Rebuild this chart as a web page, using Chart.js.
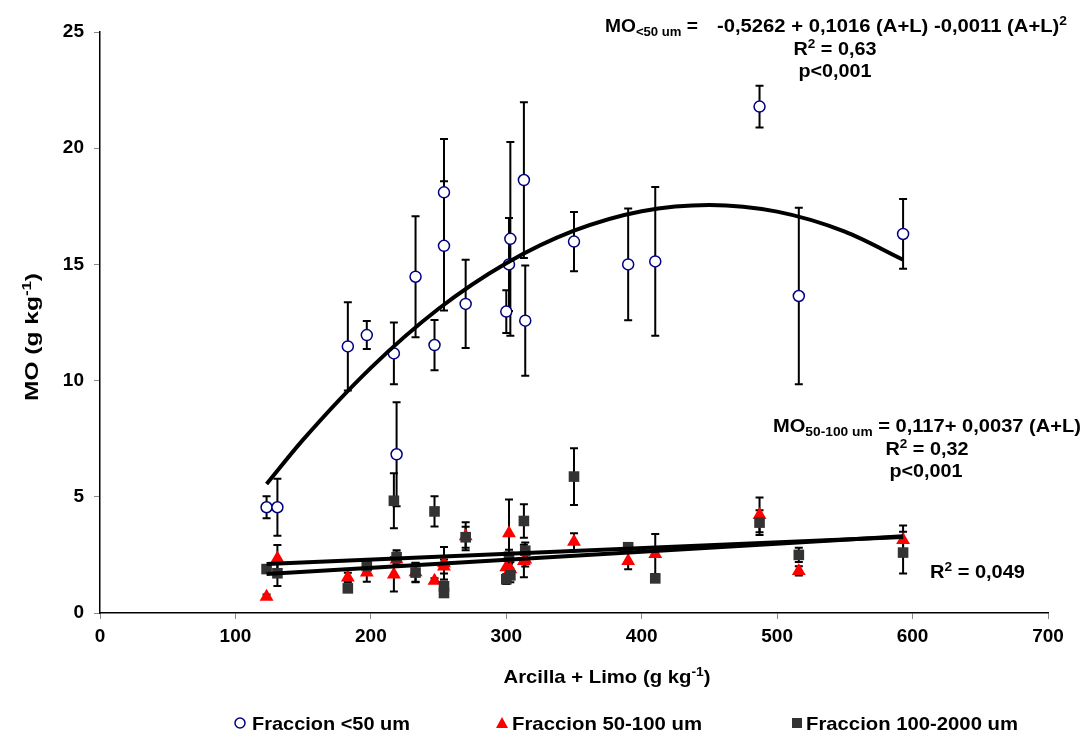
<!DOCTYPE html>
<html>
<head>
<meta charset="utf-8">
<script src="https://cdn.jsdelivr.net/npm/chart.js@4"></script>
<style>
html,body{margin:0;padding:0;background:#fff;}
#wrap{width:1084px;height:735px;position:relative;}
</style>
</head>
<body>
<div id="wrap"><canvas id="c" width="1084" height="735"></canvas></div>
<script>
// ---- data ----
const xVals = [123,131,183,197,217,219,233,247,254,254,270,300,302,303,313,314,350,390,410,487,516,593];
const moFine = [4.55,4.55,11.47,11.96,11.17,6.83,14.47,11.53,18.10,15.80,13.30,12.97,15.00,16.10,18.63,12.58,15.98,15.00,15.13,21.79,13.64,16.31];
const moFineErr = [0.47,1.23,1.90,0.60,1.33,2.24,2.60,1.08,2.30,2.78,1.90,0.92,2.00,4.17,3.35,2.37,1.27,2.40,3.20,0.90,3.80,1.50];
const moMid = [0.70,2.35,1.53,1.74,1.66,2.30,1.75,1.39,2.14,2.00,3.30,1.97,3.43,1.88,2.24,2.30,3.07,2.24,2.54,4.22,1.81,3.14];
const moMidErr = [0.10,0.58,0.20,0.40,0.74,0.30,0.40,0.10,0.70,0.30,0.60,0.30,1.45,0.30,0.70,0.30,0.36,0.36,0.86,0.75,0.20,0.62];
const moCoarse = [1.89,1.71,1.06,2.02,4.83,2.40,1.74,4.37,1.15,0.86,3.26,1.45,2.42,1.62,3.96,2.68,5.87,2.83,1.49,3.89,2.50,2.60];
const moCoarseErr = [0.10,0.55,0.15,0.30,1.18,0.30,0.42,0.65,0.20,0.10,0.45,0.20,0.30,0.30,0.72,0.35,1.22,0.10,0.10,0.53,0.31,0.90];

// trend curve / lines
const curveX = [123,150,200,250,300,350,400,450,500,550,593];
const curveY = [5.55,7.46,10.55,13.09,15.05,16.45,17.29,17.56,17.27,16.41,15.20];
const lineMidX = [123,593];
const lineMidY = [1.68,3.30];
const lineCoarseX = [123,593];
const lineCoarseY = [2.11,3.27];

const seriesLabels = ['Fraccion <50 um','Fraccion 50-100 um','Fraccion 100-2000 um'];
const xTicks = [0,100,200,300,400,500,600,700];
const yTicks = [0,5,10,15,20,25];

const FONT = "'Liberation Sans', Arial, sans-serif";
const BASE = 19, SMALL = 13;
const pts = (xs, ys) => xs.map((x,i)=>({x:x, y:ys[i]}));

// draws mixed-size text; optional target width stretches horizontally
function drawRich(ctx, parts, x, y, align, target){
  let w = 0;
  parts.forEach(p=>{ ctx.font = 'bold '+(p.s||BASE)+'px '+FONT; p.w = ctx.measureText(p.t).width; w += p.w; });
  const k = target ? target / w : 1;
  const tw = w * k;
  let sx = align==='center' ? x - tw/2 : (align==='right' ? x - tw : x);
  ctx.save();
  ctx.translate(sx, y); ctx.scale(k, 1);
  ctx.textAlign = 'left'; ctx.textBaseline = 'alphabetic'; ctx.fillStyle = '#000';
  let cx = 0;
  parts.forEach(p=>{ ctx.font = 'bold '+(p.s||BASE)+'px '+FONT; ctx.fillText(p.t, cx, (p.dy||0)); cx += p.w; });
  ctx.restore();
}

const errorBars = {
  id:'errorBars',
  beforeDatasetsDraw(chart){
    const ctx = chart.ctx, xs = chart.scales.x, ys = chart.scales.y;
    ctx.save();
    ctx.strokeStyle = '#000'; ctx.lineWidth = 2;
    chart.data.datasets.forEach(ds=>{
      if(!ds.errors) return;
      ds.data.forEach((d,j)=>{
        const e = ds.errors[j]; if(!e) return;
        const px = xs.getPixelForValue(d.x);
        const t = ys.getPixelForValue(d.y + e), b = ys.getPixelForValue(Math.max(0,d.y - e));
        ctx.beginPath();
        ctx.moveTo(px, t); ctx.lineTo(px, b);
        ctx.moveTo(px-4, t); ctx.lineTo(px+4, t);
        ctx.moveTo(px-4, b); ctx.lineTo(px+4, b);
        ctx.stroke();
      });
    });
    ctx.restore();
  }
};

const texts = {
  id:'texts',
  afterDraw(chart){
    const ctx = chart.ctx;
    ctx.save();
    // annotation 1
    drawRich(ctx, [{t:'MO'},{t:'<50 um',s:SMALL,dy:4},{t:' ='}], 605, 32, 'left', 93);
    drawRich(ctx, [{t:'-0,5262 + 0,1016 (A+L) -0,0011 (A+L)'},{t:'2',s:SMALL,dy:-7}], 717, 32, 'left', 350);
    drawRich(ctx, [{t:'R'},{t:'2',s:SMALL,dy:-7},{t:' = 0,63'}], 835, 55, 'center', 83);
    drawRich(ctx, [{t:'p<0,001'}], 835, 77, 'center', 73);
    // annotation 2
    drawRich(ctx, [{t:'MO'},{t:'50-100 um',s:SMALL,dy:4},{t:' = 0,117+ 0,0037 (A+L)'}], 773, 432, 'left', 308);
    drawRich(ctx, [{t:'R'},{t:'2',s:SMALL,dy:-7},{t:' = 0,32'}], 927, 455, 'center', 83);
    drawRich(ctx, [{t:'p<0,001'}], 926, 477, 'center', 73);
    drawRich(ctx, [{t:'R'},{t:'2',s:SMALL,dy:-7},{t:' = 0,049'}], 930, 578, 'left', 95);
    // axis titles
    drawRich(ctx, [{t:'Arcilla + Limo (g kg'},{t:'-1',s:SMALL,dy:-7},{t:')'}], 607, 683, 'center', 207);
    ctx.save();
    ctx.translate(38, 337); ctx.rotate(-Math.PI/2);
    drawRich(ctx, [{t:'MO (g kg'},{t:'-1',s:SMALL,dy:-7},{t:')'}], 0, 0, 'center', 128);
    ctx.restore();
    // legend
    const ly = 723;
    ctx.lineWidth = 1.5;
    ctx.beginPath(); ctx.arc(240, ly, 5, 0, Math.PI*2); ctx.fillStyle='#fff'; ctx.fill(); ctx.strokeStyle='#000080'; ctx.stroke();
    ctx.beginPath(); ctx.moveTo(502, ly-6); ctx.lineTo(508, ly+5); ctx.lineTo(496, ly+5); ctx.closePath(); ctx.fillStyle='#ff0000'; ctx.fill();
    ctx.fillStyle='#333333'; ctx.fillRect(792, ly-5, 10, 10);
    drawRich(ctx, [{t:seriesLabels[0]}], 252, ly+7, 'left', 158);
    drawRich(ctx, [{t:seriesLabels[1]}], 512, ly+7, 'left', 190);
    drawRich(ctx, [{t:seriesLabels[2]}], 806, ly+7, 'left', 212);
    ctx.restore();
  }
};

new Chart(document.getElementById('c'), {
  type:'scatter',
  data:{
    datasets:[
      {label:'curve', data:pts(curveX, curveY), showLine:true, borderColor:'#000', borderWidth:4, pointRadius:0, tension:0.4, cubicInterpolationMode:'monotone', fill:false, order:1},
      {label:'lineMid', data:pts(lineMidX, lineMidY), showLine:true, borderColor:'#000', borderWidth:4, pointRadius:0, fill:false, order:1},
      {label:'lineCoarse', data:pts(lineCoarseX, lineCoarseY), showLine:true, borderColor:'#000', borderWidth:4, pointRadius:0, fill:false, order:1},
      {label:seriesLabels[0], data:pts(xVals, moFine), errors:moFineErr, pointStyle:'circle', pointRadius:5.5, pointBackgroundColor:'#fff', pointBorderColor:'#000080', pointBorderWidth:1.5, showLine:false, order:4},
      {label:seriesLabels[1], data:pts(xVals, moMid), errors:moMidErr, pointStyle:'triangle', pointRadius:8, pointBackgroundColor:'#ff0000', pointBorderColor:'#ff0000', pointBorderWidth:0, showLine:false, order:3},
      {label:seriesLabels[2], data:pts(xVals, moCoarse), errors:moCoarseErr, pointStyle:'rect', pointRadius:7.5, pointBackgroundColor:'#333333', pointBorderColor:'#333333', pointBorderWidth:0, showLine:false, order:2}
    ]
  },
  options:{
    responsive:false, devicePixelRatio:1, animation:false,
    layout:{padding:{left:0, right:36, top:32, bottom:0}},
    plugins:{legend:{display:false}, tooltip:{enabled:false}},
    scales:{
      x:{type:'linear', min:0, max:700,
         afterBuildTicks: s => { s.ticks = xTicks.map(v=>({value:v})); },
         afterFit: s => { s.height = 122; },
         ticks:{font:{family:FONT, size:BASE, weight:'bold'}, color:'#000', padding:6},
         grid:{drawOnChartArea:false, drawTicks:true, tickLength:6, color:'#888', lineWidth:1},
         border:{display:true, color:'#000', width:1.5}},
      y:{type:'linear', min:0, max:25,
         afterBuildTicks: s => { s.ticks = yTicks.map(v=>({value:v})); },
         afterFit: s => { s.width = 100; },
         ticks:{font:{family:FONT, size:BASE, weight:'bold'}, color:'#000', padding:10},
         grid:{drawOnChartArea:false, drawTicks:true, tickLength:6, color:'#888', lineWidth:1},
         border:{display:true, color:'#000', width:1.5}}
    }
  },
  plugins:[errorBars, texts]
});
</script>
</body>
</html>
